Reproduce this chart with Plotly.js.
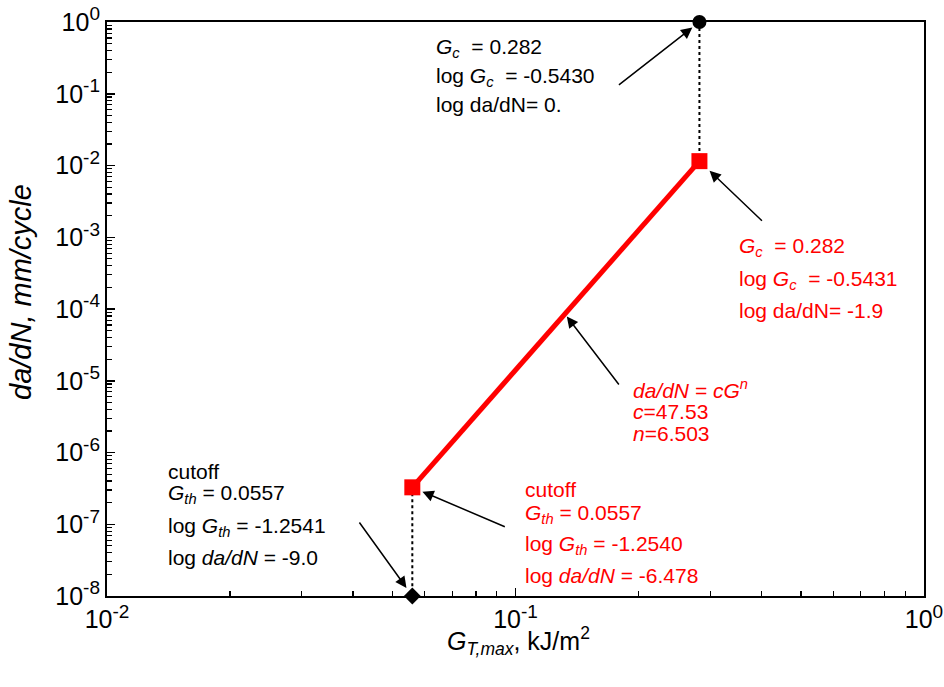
<!DOCTYPE html>
<html>
<head>
<meta charset="utf-8">
<script src="https://cdn.plot.ly/plotly-3.0.1.min.js"></script>
<style>html,body{margin:0;padding:0;background:#fff;}#chart{width:944px;height:687px;}</style>
</head>
<body>
<div id="chart"></div>
<script>
// ---- data ----
const fitX = [0.0559, 0.282];   // power-law fit endpoints (G, kJ/m^2)
const fitY = [3.27e-7, 1.15e-2]; // da/dN, mm/cycle
const criticalX = [0.282];      // black circle
const criticalY = [1];
const cutoffX = [0.0559];       // black diamond
const cutoffY = [1e-8];
const lineArrowX = 0.1322;      // point on fit line the middle arrow points at
const lineArrowY = 8.5e-5;

const xTickVals = [0.01, 0.1, 1];
const xTickExp = ['-2', '-1', '0'];
const yTickVals = [1e-8, 1e-7, 1e-6, 1e-5, 1e-4, 1e-3, 1e-2, 1e-1, 1];
const yTickExp = ['-8', '-7', '-6', '-5', '-4', '-3', '-2', '-1', '0'];

function powLabel(e) { return '10<sup><span style="font-size:19px">' + e + '</span></sup>'; }
function minorVals(lo, hi) {
  const v = [];
  for (let e = lo; e < hi; e++) for (let d = 2; d <= 9; d++) v.push(d * Math.pow(10, e));
  return v;
}

const FONT = 'Liberation Sans, Arial, Helvetica, sans-serif';
const RED = '#ff0000';

const traces = [
  { x: [criticalX[0], fitX[1]], y: [criticalY[0], fitY[1]], mode: 'lines',
    line: { color: 'black', width: 2, dash: 'dot' }, hoverinfo: 'skip', cliponaxis: false },
  { x: [fitX[0], cutoffX[0]], y: [fitY[0], cutoffY[0]], mode: 'lines',
    line: { color: 'black', width: 2, dash: 'dot' }, hoverinfo: 'skip', cliponaxis: false },
  { x: fitX, y: fitY, mode: 'lines+markers',
    line: { color: RED, width: 5 },
    marker: { symbol: 'square', size: 16, color: RED }, cliponaxis: false },
  { x: criticalX, y: criticalY, mode: 'markers',
    marker: { symbol: 'circle', size: 14, color: 'black' }, cliponaxis: false },
  { x: cutoffX, y: cutoffY, mode: 'markers',
    marker: { symbol: 'diamond', size: 13, color: 'black' }, cliponaxis: false }
];

const L = 107, R = 924, T = 22, B = 596;
function px(x) { return (x - L) / (R - L); }
function py(y) { return (B - y) / (B - T); }

function txt(x, y, text, color, size, extra) {
  return Object.assign({ xref: 'paper', yref: 'paper', x: px(x), y: py(y), xanchor: 'left', yanchor: 'middle',
           text: text, showarrow: false, font: { family: FONT, size: size || 21, color: color } }, extra || {});
}
function arrow(xv, yv, ax, ay, standoff) {
  return { xref: 'x', yref: 'y', x: Math.log10(xv), y: Math.log10(yv), ax: ax, ay: ay, text: '',
           showarrow: true, arrowhead: 2, arrowsize: 1.5, arrowwidth: 1.5, arrowcolor: 'black', standoff: standoff };
}

const annotations = [
  arrow(criticalX[0], criticalY[0], -82, 64, 9),
  arrow(fitX[1], fitY[1], 64, 61, 14),
  arrow(lineArrowX, lineArrowY, 55, 72, 3),
  arrow(fitX[0], fitY[0], 94, 40, 11),
  arrow(cutoffX[0], cutoffY[0], -54, -75, 10),

  txt(434, 48, '<i>G</i><sub><i>c</i></sub>  = 0.282', 'black'),
  txt(434, 77, 'log <i>G</i><sub><i>c</i></sub>  = -0.5430', 'black'),
  txt(434, 104, 'log da/dN= 0.', 'black'),

  txt(737, 247, '<i>G</i><sub><i>c</i></sub>  = 0.282', RED),
  txt(737, 280, 'log <i>G</i><sub><i>c</i></sub>  = -0.5431', RED),
  txt(737, 310, 'log da/dN= -1.9', RED),

  txt(631, 389, '<i>da/dN = cG<sup>n</sup></i>', RED),
  txt(631, 411, '<i>c</i>=47.53', RED),
  txt(631, 433, '<i>n</i>=6.503', RED),

  txt(166, 471, 'cutoff', 'black'),
  txt(166, 494, '<i>G</i><sub><i>th</i></sub> = 0.0557', 'black'),
  txt(166, 527, 'log <i>G</i><sub><i>th</i></sub> = -1.2541', 'black'),
  txt(166, 557, 'log <i>da/dN</i> = -9.0', 'black'),

  txt(523, 489, 'cutoff', RED),
  txt(523, 514, '<i>G</i><sub><i>th</i></sub> = 0.0557', RED),
  txt(523, 545, 'log <i>G</i><sub><i>th</i></sub> = -1.2540', RED),
  txt(523, 575, 'log <i>da/dN</i> = -6.478', RED),

  // axis titles
  txt(21, 292, '<i>da/dN, mm/cycle</i>', 'black', 29, { xanchor: 'center', textangle: -90 }),
  txt(518, 641, '<i>G</i><sub><i>T,max</i></sub>, kJ/m<sup>2</sup>', 'black', 25, { xanchor: 'center' })
];

const axisCommon = {
  type: 'log', showgrid: false, zeroline: false, showline: true, linecolor: 'black', linewidth: 2,
  mirror: true, ticks: 'inside', ticklen: 8, tickwidth: 1.5, tickcolor: 'black',
  tickmode: 'array', automargin: false,
  tickfont: { family: FONT, size: 25, color: 'black' }
};

const layout = {
  width: 944, height: 687,
  margin: { l: L, r: 944 - R, t: T, b: 687 - B },
  paper_bgcolor: 'white', plot_bgcolor: 'white',
  showlegend: false,
  xaxis: Object.assign({}, axisCommon, {
    range: [-2, 0], tickvals: xTickVals, ticktext: xTickExp.map(powLabel),
    minor: { tickmode: 'array', tickvals: minorVals(-2, 0), ticks: 'inside', ticklen: 5, tickwidth: 1.2, tickcolor: 'black', showgrid: false }
  }),
  yaxis: Object.assign({}, axisCommon, {
    range: [-8, 0], tickvals: yTickVals, ticktext: yTickExp.map(powLabel),
    minor: { tickmode: 'array', tickvals: minorVals(-8, 0), ticks: 'inside', ticklen: 5, tickwidth: 1.2, tickcolor: 'black', showgrid: false }
  }),
  annotations: annotations,
  font: { family: FONT, color: 'black' }
};

Plotly.newPlot('chart', traces, layout, { displayModeBar: false, staticPlot: true });
</script>
</body>
</html>
